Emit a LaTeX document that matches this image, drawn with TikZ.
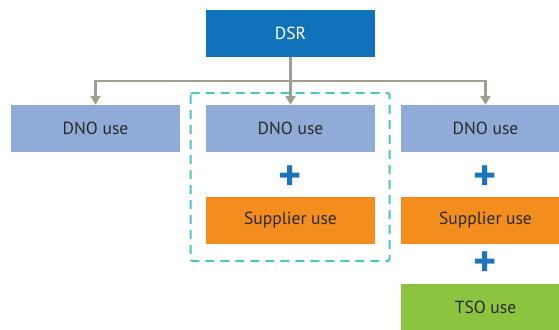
\documentclass[tikz,border=0pt]{standalone}
\usepackage{fontspec}
\setmainfont{PT Sans}
\usetikzlibrary{arrows.meta}
\definecolor{dsrblue}{HTML}{1072BA}
\definecolor{dnoblue}{HTML}{91ABD8}
\definecolor{suporange}{HTML}{F38D1E}
\definecolor{tsogreen}{HTML}{8CC43F}
\definecolor{linkgrey}{HTML}{A09F8F}
\definecolor{dashteal}{HTML}{4BC4C0}
\definecolor{plusblue}{HTML}{1B75BB}
\definecolor{labeltext}{HTML}{2A2A2A}
\tikzset{
  box/.style={minimum width=169pt, minimum height=47pt, inner sep=0pt,
    text=labeltext, font=\fontsize{17.5}{20}\selectfont},
  dsrbox/.style={box, fill=dsrblue, text=white},
  dnobox/.style={box, fill=dnoblue},
  supbox/.style={box, fill=suporange},
  tsobox/.style={box, fill=tsogreen},
  link/.style={draw=linkgrey, line width=2.5pt,
    -{Triangle[length=9pt,width=10pt]}},
  plus/.style={text=plusblue, font=\fontsize{44}{44}\selectfont\bfseries, inner sep=0pt},
}
\begin{document}
\begin{tikzpicture}[x=1pt,y=-1pt]
  \useasboundingbox (0,0) rectangle (559,329);
  % boxes (centres)
  \node[dsrbox] (dsr) at (290.5,33.5) {DSR};
  \node[dnobox] (dnoA) at (95.5,128.5) {DNO use};
  \node[dnobox] (dnoB) at (290.5,128.5) {DNO use};
  \node[dnobox] (dnoC) at (485.5,128.5) {DNO use};
  \node[supbox] (supB) at (290.5,220) {Supplier use};
  \node[supbox] (supC) at (485.5,220) {Supplier use};
  \node[tsobox] (tsoC) at (485.5,307.5) {TSO use};
  % plus signs
  \node[plus] (pB) at (290.5,178) {+};
  \node[plus] (pC1) at (485.5,178) {+};
  \node[plus] (pC2) at (485.5,264) {+};
  % distribution bus
  \coordinate (bus) at (290.5,81);
  \draw[link] (dsr.south) -- (dnoB.north);
  \draw[link] (bus) -| (dnoA.north);
  \draw[link] (bus) -| (dnoC.north);
  % grouping frame
  \draw[dashteal, line width=2pt, dash pattern=on 9pt off 6pt, rounded corners=2pt]
    (190.5,93) rectangle (389.5,261);
\end{tikzpicture}
\end{document}
